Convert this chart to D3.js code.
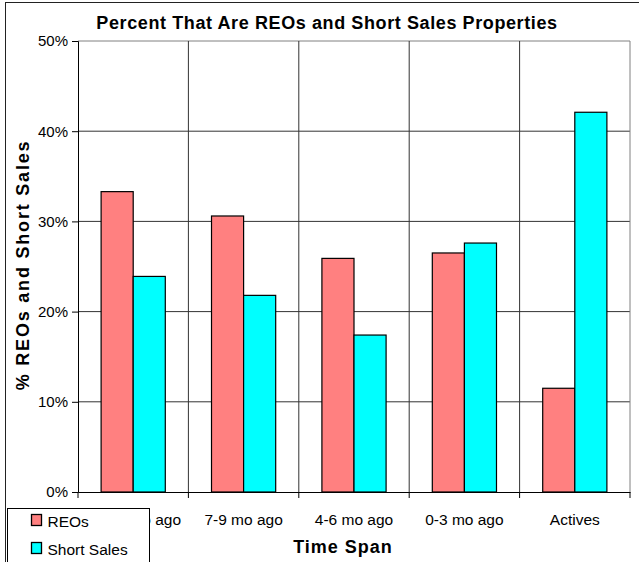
<!DOCTYPE html>
<html>
<head>
<meta charset="utf-8">
<script src="https://cdn.jsdelivr.net/npm/d3@7"></script>
<style>
  body { margin: 0; background: #fff; }
  text { font-family: "Liberation Sans", Arial, sans-serif; }
</style>
</head>
<body>
<svg id="chart"></svg>
<script>
// Chart data
const categories = ['10-12 mo ago', '7-9 mo ago', '4-6 mo ago', '0-3 mo ago', 'Actives'];
const reos = [0.333, 0.306, 0.259, 0.265, 0.115];
const shortSales = [0.239, 0.218, 0.174, 0.276, 0.421];
const seriesNames = ['REOs', 'Short Sales'];
const seriesColors = ['#ff8080', '#00ffff'];
const yTicks = [0, 0.1, 0.2, 0.3, 0.4, 0.5];

const width = 639;
const height = 562;
const margin = { top: 41, right: 9, bottom: 70, left: 78 };
const innerW = width - margin.left - margin.right;
const innerH = height - margin.top - margin.bottom;

const svg = d3.select('#chart').attr('width', width).attr('height', height);

// outer chart border
svg.append('rect')
    .attr('x', 5.5).attr('y', 2.5)
    .attr('width', width).attr('height', height)
    .attr('fill', 'none').attr('stroke', '#222');

const g = svg.append('g').attr('transform', `translate(${margin.left},${margin.top})`);

// Scales
const x0 = d3.scaleBand().domain(categories).range([0, innerW]);
const x1 = d3.scaleBand().domain(seriesNames).range([0, x0.bandwidth()]).paddingInner(0).paddingOuter(0.72);
const y = d3.scaleLinear().domain([0, 0.5]).range([innerH, 0]);

// Horizontal gridlines
g.selectAll('.hgrid')
    .data(yTicks.slice(1))
    .enter()
    .append('line')
    .attr('x1', 0).attr('x2', innerW)
    .attr('y1', d => y(d)).attr('y2', d => y(d))
    .attr('stroke', d => d === 0.5 ? '#808080' : '#333')
    .attr('stroke-width', 1);

// Vertical gridlines at category boundaries
g.selectAll('.vgrid')
    .data(categories.slice(1).concat(['end']))
    .enter()
    .append('line')
    .attr('x1', (d, i) => i < categories.length - 1 ? x0(d) : innerW)
    .attr('x2', (d, i) => i < categories.length - 1 ? x0(d) : innerW)
    .attr('y1', 0).attr('y2', innerH)
    .attr('stroke', (d, i) => i < categories.length - 1 ? '#333' : '#808080');

// Bars
const rows = categories.map((c, i) => ({ cat: c, vals: [reos[i], shortSales[i]] }));
const groups = g.selectAll('.grp')
    .data(rows)
    .enter()
    .append('g')
    .attr('transform', d => `translate(${x0(d.cat)},0)`);

groups.selectAll('rect')
    .data(d => d.vals.map((v, j) => ({ name: seriesNames[j], v, j })))
    .enter()
    .append('rect')
    .attr('x', d => x1(d.name))
    .attr('y', d => y(d.v))
    .attr('width', x1.bandwidth())
    .attr('height', d => innerH - y(d.v))
    .attr('fill', d => seriesColors[d.j])
    .attr('stroke', '#000')
    .attr('stroke-width', 1.2);

// Y axis
const yAxis = g.append('g')
    .call(d3.axisLeft(y).tickValues(yTicks).tickFormat(d3.format('.0%')).tickSize(6).tickPadding(4));
yAxis.select('.domain').attr('stroke', '#000');
yAxis.selectAll('text').style('font-size', '15px').attr('fill', '#000');

// X axis
const xAxis = g.append('g')
    .attr('transform', `translate(0,${innerH})`)
    .call(d3.axisBottom(x0).tickSize(0).tickPadding(22));
xAxis.select('.domain').attr('stroke', '#000');
xAxis.selectAll('text').style('font-size', '15.5px').attr('fill', '#000');

// x tick marks at category boundaries
g.selectAll('.xtick')
    .data(categories.concat(['end']))
    .enter()
    .append('line')
    .attr('x1', (d, i) => i < categories.length ? x0(d) : innerW)
    .attr('x2', (d, i) => i < categories.length ? x0(d) : innerW)
    .attr('y1', innerH).attr('y2', innerH + 6)
    .attr('stroke', '#000');

// Title
svg.append('text')
    .attr('x', 327).attr('y', 29)
    .attr('text-anchor', 'middle')
    .style('font-size', '18px').style('font-weight', 'bold')
    .style('letter-spacing', '0.6px')
    .text('Percent That Are REOs and Short Sales Properties');

// Axis titles
svg.append('text')
    .attr('x', 343).attr('y', 553)
    .attr('text-anchor', 'middle')
    .style('font-size', '18px').style('font-weight', 'bold')
    .style('letter-spacing', '1px')
    .text('Time Span');

svg.append('text')
    .attr('transform', 'translate(29,265) rotate(-90)')
    .attr('text-anchor', 'middle')
    .style('font-size', '18px').style('font-weight', 'bold')
    .style('letter-spacing', '1.8px')
    .text('% REOs and Short Sales');

// Legend
const legend = svg.append('g').attr('transform', 'translate(7.5,508.5)');
legend.append('rect')
    .attr('width', 142).attr('height', 60)
    .attr('fill', '#fff').attr('stroke', '#000');
seriesNames.forEach((name, i) => {
    legend.append('rect')
        .attr('x', 24).attr('y', 6 + i * 28)
        .attr('width', 10).attr('height', 11)
        .attr('fill', seriesColors[i]).attr('stroke', '#000').attr('stroke-width', 1.3);
    legend.append('text')
        .attr('x', 40).attr('y', 18 + i * 28)
        .style('font-size', '15.5px')
        .text(name);
});
</script>
</body>
</html>
